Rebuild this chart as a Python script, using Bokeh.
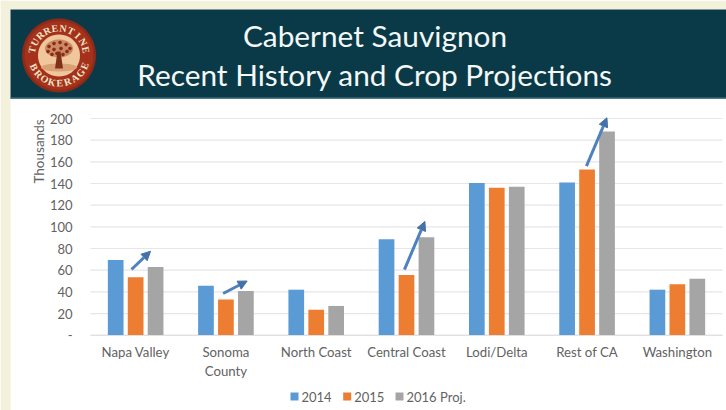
import math
from bokeh.core.properties import value
from bokeh.embed import file_html
from bokeh.resources import INLINE
from bokeh.plotting import figure
from bokeh.models import Range1d, FixedTicker, Arrow, NormalHead, ColumnDataSource, LinearAxis

regions = ["Napa Valley", "Sonoma\nCounty", "North Coast", "Central Coast", "Lodi/Delta", "Rest of CA", "Washington"]
v2014 = [69.5, 45.6, 42, 88.5, 140.5, 141, 42]
v2015 = [53.5, 33, 23.5, 55.5, 136, 153, 47]
v2016 = [63, 40.8, 27, 90.5, 137, 188, 52]
series_names = ["2014", "2015", "2016 Proj."]
series_colors = ["#5B9BD5", "#ED7D31", "#A5A5A5"]
y_ticks = [0, 20, 40, 60, 80, 100, 120, 140, 160, 180, 200]
arrow_x0 = [0.454, 1.469, 3.477, 5.493]
arrow_x1 = [0.665, 1.735, 3.704, 5.720]
arrow_y0 = [60.6, 38.5, 60.6, 156]
arrow_y1 = [77.5, 50, 105, 200.7]
title_lines = ["Cabernet Sauvignon", "Recent History and Crop Projections"]

W, H = 726, 410
CREAM = "#F3F0DC"
TEAL = "#0A3A47"
FONT = "Lato"
GREY = "#626262"
L, R, T, B = 90.0, 722.0, 118.0, 334.7   # plot area within the page
ux = (R - L) / 7
uy = (B - T) / 200

p = figure(width=W, height=H, output_backend="svg", toolbar_location=None,
           x_range=Range1d(-L / ux, 7 + (W - R) / ux),
           y_range=Range1d(-(H - B) / uy, 200 + T / uy),
           x_axis_location=None, y_axis_location=None,
           min_border=0, min_border_left=0, min_border_right=0, min_border_top=0, min_border_bottom=0)
p.extra_x_ranges["px"] = Range1d(0, W)
p.extra_y_ranges["px"] = Range1d(H, 0)
PX = dict(x_range_name="px", y_range_name="px")
p.border_fill_color = "white"
p.background_fill_color = "white"
p.outline_line_color = None
p.grid.visible = False

def box(l, r, t, b, color):
    p.quad(left=[l], right=[r], top=[t], bottom=[b], fill_color=color, line_color=None, **PX)

box(0, 10, 0, H, CREAM)
box(0, W, 0, 9, CREAM)
box(10, W, 9, 98, TEAL)
box(10, W, 97, 98.5, "#4F7A85")

p.segment(x0=[0] * len(y_ticks), x1=[7] * len(y_ticks), y0=y_ticks, y1=y_ticks, line_color="#E6E6E6", line_width=1.2)

xs = [i + 0.5 for i in range(len(regions))]

for vals, off, col in zip([v2014, v2015, v2016], [-0.221, 0, 0.221], series_colors):
    src = ColumnDataSource(dict(x=[x + off for x in xs], top=vals))
    p.vbar(x="x", top="top", width=0.174, bottom=0, source=src, fill_color=col, line_color=None)

xax = LinearAxis(fixed_location=0, bounds=(0, 7), ticker=FixedTicker(ticks=xs),
                 major_label_overrides={x: r for x, r in zip(xs, regions)},
                 major_tick_line_color=None, minor_tick_line_color=None, axis_line_color="#E0E0E0",
                 major_label_text_font=FONT, major_label_text_font_size="13.2px",
                 major_label_text_color=GREY, major_label_standoff=3)
p.add_layout(xax, "below")
yax = LinearAxis(fixed_location=0, ticker=FixedTicker(ticks=y_ticks), major_label_overrides={0: "-"},
                 major_tick_line_color=None, minor_tick_line_color=None, axis_line_color=None,
                 major_label_text_font=FONT, major_label_text_font_size="13px",
                 major_label_text_color=GREY, major_label_standoff=12)
p.add_layout(yax, "left")

for a, b, c, d in zip(arrow_x0, arrow_x1, arrow_y0, arrow_y1):
    p.add_layout(Arrow(end=NormalHead(size=9, fill_color="#4472A8", line_color="#4472A8"),
                       x_start=a, x_end=b, y_start=c, y_end=d,
                       line_color="#4F81BD", line_width=3))

def txt(x, y, s, size, color, angle=0, font=FONT, style="normal", align="center"):
    p.text(x=[x], y=[y], text=[s], text_font=value(font), text_font_size=value(size), text_color=color,
           text_align=align, text_baseline="middle", angle=angle, text_font_style=style, **PX)

txt(374.5, 35, title_lines[0], "29.8px", "#F4F8F8")
txt(374.5, 74, title_lines[1], "29.8px", "#F4F8F8")
txt(38, 151, "Thousands", "13.5px", GREY, angle=math.pi / 2)

for x0, name, col in zip([290, 342.7, 395], series_names, series_colors):
    box(x0, x0 + 8, 392, 400, col)
    txt(x0 + 11, 396, name, "13px", GREY, align="left")

def disc(cx, cy, rx, ry, color, n=48):
    p.patch([cx + rx * math.cos(2 * math.pi * i / n) for i in range(n)],
            [cy + ry * math.sin(2 * math.pi * i / n) for i in range(n)],
            fill_color=color, line_color=None, **PX)

cx, cy = 58.5, 55
disc(cx, cy, 37, 37, "#8E2A18")
disc(cx, cy, 34.5, 34.5, "#A3311B")
disc(cx, cy, 21, 21, "#F0C79C")
disc(cx, cy + 12, 18, 4, "#D99F75")
disc(cx, cy - 7, 14, 9, "#C98A64")
for dx, dy in [(-10, -9), (-5, -12), (1, -13), (7, -11), (11, -7), (-11, -4), (-5, -6), (2, -7), (8, -4), (-2, -2), (4, -1), (-7, -1)]:
    disc(cx + dx, cy + dy, 1.8, 1.8, "#8E2A18", n=10)
p.patch([cx - 1.5, cx + 1.5, cx + 4, cx - 4], [cy - 4, cy - 4, cy + 13, cy + 13],
        fill_color="#7E3018", line_color=None, **PX)

def ring(word, a0, a1, top=True):
    for i, ch in enumerate(word):
        a = math.radians(a0 + (a1 - a0) * i / (len(word) - 1))
        x = cx + 27.5 * math.cos(a)
        y = cy - 27.5 * math.sin(a)
        ang = a - math.pi / 2 if top else a + math.pi / 2
        txt(x, y, ch, "10px", "#F6E6C8", angle=ang, font="Liberation Serif", style="bold")

ring("TURRENTINE", 168, 12, True)
ring("BROKERAGE", 205, 338, False)

open("out.html", "w").write(file_html(p, INLINE))
